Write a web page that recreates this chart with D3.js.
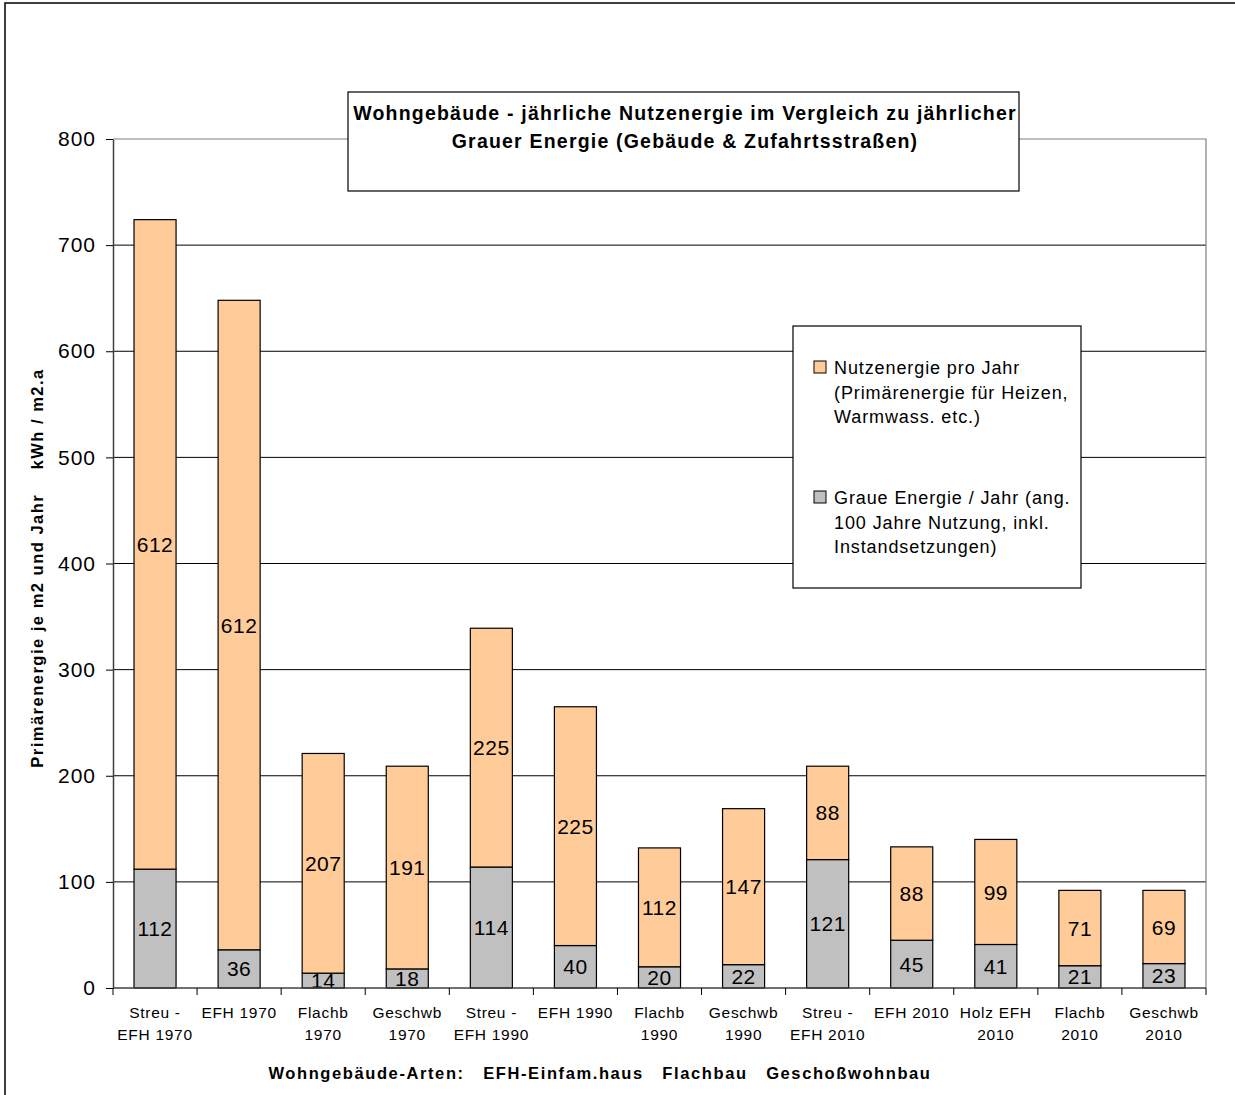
<!DOCTYPE html>
<html>
<head>
<meta charset="utf-8">
<script src="https://cdn.jsdelivr.net/npm/d3@7"></script>
<style>
  body { margin: 0; background: #fff; }
  text { font-family: "Liberation Sans", Arial, sans-serif; fill: #000; }
</style>
</head>
<body>
<script>
// chart data
const categories = [
  ["Streu -", "EFH 1970"], ["EFH 1970"], ["Flachb", "1970"], ["Geschwb", "1970"],
  ["Streu -", "EFH 1990"], ["EFH 1990"], ["Flachb", "1990"], ["Geschwb", "1990"],
  ["Streu -", "EFH 2010"], ["EFH 2010"], ["Holz EFH", "2010"], ["Flachb", "2010"], ["Geschwb", "2010"]
];
const graueEnergie = [112, 36, 14, 18, 114, 40, 20, 22, 121, 45, 41, 21, 23];
const nutzEnergie = [612, 612, 207, 191, 225, 225, 112, 147, 88, 88, 99, 71, 69];
const yTicks = [0, 100, 200, 300, 400, 500, 600, 700, 800];

const titleLines = [
  "Wohngebäude - jährliche Nutzenergie im Vergleich zu jährlicher",
  "Grauer Energie (Gebäude & Zufahrtsstraßen)"
];
const legendItems = [
  { color: "#FFCC99", lines: ["Nutzenergie pro Jahr", "(Primärenergie für Heizen,", "Warmwass. etc.)"] },
  { color: "#C0C0C0", lines: ["Graue Energie / Jahr (ang.", "100 Jahre Nutzung, inkl.", "Instandsetzungen)"] }
];
const yTitle = "Primärenergie je m2 und Jahr    kWh / m2.a";
const xTitle = "Wohngebäude-Arten:   EFH-Einfam.haus   Flachbau   Geschoßwohnbau";

const W = 1235, H = 1095;
const plot = { left: 113, right: 1206, top: 139, bottom: 988 };

let svg = d3.select("body").append("svg")
  .attr("width", W)
  .attr("height", H);

// outer chart border
svg.append("rect")
  .attr("x", 5).attr("y", 3)
  .attr("width", W + 20).attr("height", H + 20)
  .attr("fill", "#fff")
  .attr("stroke", "#000").attr("stroke-width", 1.5);

let x = d3.scaleBand()
  .domain(d3.range(categories.length))
  .range([plot.left, plot.right])
  .paddingInner(0.5)
  .paddingOuter(0.25);

let y = d3.scaleLinear()
  .domain([0, 800])
  .range([plot.bottom, plot.top]);

// gridlines
svg.append("g")
  .selectAll("line")
  .data(yTicks.filter(d => d > 0 && d < 800))
  .enter()
  .append("line")
  .attr("x1", plot.left).attr("x2", plot.right)
  .attr("y1", d => y(d)).attr("y2", d => y(d))
  .attr("stroke", "#000").attr("stroke-width", 1);

// plot border top / right
svg.append("path")
  .attr("d", `M${plot.left},${plot.top}H${plot.right}V${plot.bottom}`)
  .attr("fill", "none")
  .attr("stroke", "#808080").attr("stroke-width", 1.2);

// stacked bars
let stackData = graueEnergie.map((g, i) => ({ i: i, g: g, n: nutzEnergie[i] }));

let groups = svg.append("g")
  .selectAll("g")
  .data(stackData)
  .enter()
  .append("g");

groups.append("rect")
  .attr("x", d => x(d.i))
  .attr("width", x.bandwidth())
  .attr("y", d => y(d.g))
  .attr("height", d => y(0) - y(d.g))
  .attr("fill", "#C0C0C0")
  .attr("stroke", "#000").attr("stroke-width", 1.2);

groups.append("rect")
  .attr("x", d => x(d.i))
  .attr("width", x.bandwidth())
  .attr("y", d => y(d.g + d.n))
  .attr("height", d => y(d.g) - y(d.g + d.n))
  .attr("fill", "#FFCC99")
  .attr("stroke", "#000").attr("stroke-width", 1.2);

// value labels
groups.append("text")
  .attr("x", d => x(d.i) + x.bandwidth() / 2)
  .attr("y", d => (y(0) + y(d.g)) / 2)
  .attr("dy", "0.36em")
  .attr("text-anchor", "middle")
  .style("font-size", "21px").style("letter-spacing", "0.5px")
  .text(d => d.g);

groups.append("text")
  .attr("x", d => x(d.i) + x.bandwidth() / 2)
  .attr("y", d => (y(d.g) + y(d.g + d.n)) / 2)
  .attr("dy", "0.36em")
  .attr("text-anchor", "middle")
  .style("font-size", "21px").style("letter-spacing", "0.5px")
  .text(d => d.n);

// y axis
let yAxis = svg.append("g")
  .attr("transform", `translate(${plot.left},0)`)
  .call(d3.axisLeft(y).tickValues(yTicks).tickSize(7).tickPadding(10).tickSizeOuter(0));
yAxis.select(".domain").attr("stroke", "#404040").attr("stroke-width", 1.5);
yAxis.selectAll(".tick line").attr("stroke", "#000");
yAxis.selectAll(".tick text")
  .style("font-family", "'Liberation Sans', Arial, sans-serif")
  .style("font-size", "21px").style("letter-spacing", "1px")
  .attr("fill", "#000");

// x axis baseline and category boundary ticks
svg.append("line")
  .attr("x1", plot.left).attr("x2", plot.right)
  .attr("y1", plot.bottom).attr("y2", plot.bottom)
  .attr("stroke", "#404040").attr("stroke-width", 1.5);

let step = x.step();
svg.append("g")
  .selectAll("line")
  .data(d3.range(categories.length + 1))
  .enter()
  .append("line")
  .attr("x1", k => x(0) - step * 0.25 + k * step)
  .attr("x2", k => x(0) - step * 0.25 + k * step)
  .attr("y1", plot.bottom).attr("y2", plot.bottom + 7)
  .attr("stroke", "#000");

// category labels
let catLabels = svg.append("g")
  .selectAll("text")
  .data(categories)
  .enter()
  .append("text")
  .attr("text-anchor", "middle")
  .style("font-size", "15.5px").style("letter-spacing", "0.7px");

catLabels.selectAll("tspan")
  .data((d, i) => d.map(line => ({ line: line, i: i })))
  .enter()
  .append("tspan")
  .attr("x", d => x(d.i) + x.bandwidth() / 2)
  .attr("y", (d, j) => 1018 + j * 22)
  .text(d => d.line);

// axis titles
svg.append("text")
  .attr("x", 600).attr("y", 1079)
  .attr("text-anchor", "middle")
  .attr("xml:space", "preserve")
  .style("white-space", "pre")
  .style("font-size", "16.5px").style("font-weight", "bold").style("letter-spacing", "1.6px")
  .text(xTitle);

svg.append("text")
  .attr("transform", "translate(43,568) rotate(-90)")
  .attr("text-anchor", "middle")
  .attr("xml:space", "preserve")
  .style("white-space", "pre")
  .style("font-size", "16.5px").style("font-weight", "bold").style("letter-spacing", "1.5px")
  .text(yTitle);

// title box
svg.append("rect")
  .attr("x", 348).attr("y", 92)
  .attr("width", 671).attr("height", 99)
  .attr("fill", "#fff")
  .attr("stroke", "#000").attr("stroke-width", 1.2);

svg.append("g")
  .selectAll("text")
  .data(titleLines)
  .enter()
  .append("text")
  .attr("x", 685)
  .attr("y", (d, i) => 120 + i * 28)
  .attr("text-anchor", "middle")
  .style("font-size", "19.5px").style("font-weight", "bold").style("letter-spacing", "1.2px")
  .text(d => d);

// legend
svg.append("rect")
  .attr("x", 793).attr("y", 326)
  .attr("width", 288).attr("height", 262)
  .attr("fill", "#fff")
  .attr("stroke", "#000").attr("stroke-width", 1.2);

let legend = svg.append("g")
  .selectAll("g")
  .data(legendItems)
  .enter()
  .append("g")
  .attr("transform", (d, i) => `translate(814,${361 + i * 130})`);

legend.append("rect")
  .attr("width", 12).attr("height", 12)
  .attr("fill", d => d.color)
  .attr("stroke", "#000").attr("stroke-width", 1);

legend.selectAll("text")
  .data(d => d.lines)
  .enter()
  .append("text")
  .attr("x", 20)
  .attr("y", (d, j) => 13 + j * 24.5)
  .style("font-size", "18px").style("letter-spacing", "0.9px")
  .text(d => d);
</script>
</body>
</html>
